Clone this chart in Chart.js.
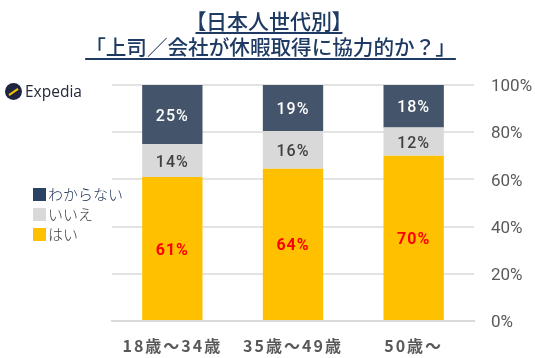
<!DOCTYPE html>
<html>
<head>
<meta charset="utf-8">
<script src="https://cdn.jsdelivr.net/npm/chart.js@4"></script>
<style>
  html, body { margin: 0; padding: 0; background: #fff; }
  #wrap { position: relative; width: 535px; height: 358px; overflow: hidden; font-family: "Noto Sans CJK JP", sans-serif; }
  #myChart { position: absolute; left: 0; top: 0; }
  #title { position: absolute; left: 0; top: 7px; width: 535px; text-align: center; color: #1f3b63; font-size: 21px; line-height: 26px; font-weight: 500; }
  #title span { text-decoration: underline; text-underline-offset: 3px; text-decoration-thickness: 2px; }
  #title .first { font-feature-settings: "palt"; margin-left: 3px; }
  #title .second { font-size: 20.6px; margin-left: 6px; }
  #logo { position: absolute; left: 5px; top: 80px; display: flex; align-items: center; font-family: "Open Sans", sans-serif; font-size: 15.5px; color: #25283c; height: 22px; }
  #logo i { display: block; width: 17px; height: 17px; border-radius: 50%; background: #1f2540; margin-right: 3px; position: relative; }
  #logo i::after { content: ""; position: absolute; left: 3px; top: 8px; width: 11px; height: 2px; background: #f5c400; transform: rotate(-35deg); }
  #legend { position: absolute; left: 33px; top: 184px; font-size: 15px; line-height: 20px; font-weight: 300; }
  #legend div { display: flex; align-items: center; height: 20px; }
  #legend b { display: block; width: 13px; height: 13px; margin-right: 2px; }
</style>
</head>
<body>
<div id="wrap">
  <canvas id="myChart" width="535" height="358"></canvas>
  <div id="title"><span class="first">【日本人世代別】</span><br><span class="second">「上司／会社が休暇取得に協力的か？」</span></div>
  <div id="logo"><i></i>Expedia</div>
  <div id="legend"></div>
</div>
<script>
'use strict';

let categories = ['18歳～34歳', '35歳～49歳', '50歳～'];
let hai = [61, 64.5, 70];
let iie = [14, 16, 12];
let wakaranai = [25, 19.5, 18];
let haiLabels = ['61%', '64%', '70%'];
let iieLabels = ['14%', '16%', '12%'];
let wakaranaiLabels = ['25%', '19%', '18%'];
let tickLabels = ['0%', '20%', '40%', '60%', '80%', '100%'];

let legendItems = [
  { name: 'わからない', color: '#2a4365', text: '#1c3258' },
  { name: 'いいえ', color: '#d9d9d9', text: '#404040' },
  { name: 'はい', color: '#ffc000', text: '#404040' }
];

let legendBox = document.getElementById('legend');
for (let i = 0; i < legendItems.length; i++) {
  let row = document.createElement('div');
  row.style.color = legendItems[i].text;
  let box = document.createElement('b');
  box.style.background = legendItems[i].color;
  row.appendChild(box);
  row.appendChild(document.createTextNode(legendItems[i].name));
  legendBox.appendChild(row);
}

// draws the percent text in the middle of each bar segment
const barLabels = {
  id: 'barLabels',
  afterDatasetsDraw(chart) {
    let ctx = chart.ctx;
    ctx.save();
    ctx.textAlign = 'center';
    ctx.textBaseline = 'middle';
    ctx.letterSpacing = '1px';
    chart.data.datasets.forEach(function (dataset, d) {
      ctx.font = dataset.labelFont;
      chart.getDatasetMeta(d).data.forEach(function (bar, i) {
        ctx.fillStyle = dataset.labelColor;
        ctx.fillText(dataset.texts[i], bar.x, (bar.y + bar.base) / 2 + 2);
      });
    });
    ctx.restore();
  }
};

const myChart = new Chart(document.getElementById('myChart'), {
  type: 'bar',
  data: {
    labels: categories,
    datasets: [
      { label: 'はい', data: hai, backgroundColor: '#ffc000', texts: haiLabels, labelColor: '#ff0000', labelFont: '700 16px Roboto' },
      { label: 'いいえ', data: iie, backgroundColor: '#d9d9d9', texts: iieLabels, labelColor: '#404040', labelFont: '500 16px Roboto' },
      { label: 'わからない', data: wakaranai, backgroundColor: '#44546a', texts: wakaranaiLabels, labelColor: '#ffffff', labelFont: '500 16px Roboto' }
    ]
  },
  options: {
    responsive: false,
    animation: false,
    layout: { padding: { left: 112, top: 85, right: 0, bottom: 0 } },
    plugins: { legend: { display: false }, title: { display: false }, tooltip: { enabled: false } },
    datasets: { bar: { categoryPercentage: 1, barPercentage: 0.5 } },
    scales: {
      x: {
        stacked: true,
        grid: { display: false },
        border: { color: '#d9d9d9', width: 2 },
        ticks: { color: '#595959', font: { family: '"Noto Sans CJK JP"', size: 16, weight: '700' }, padding: 7, maxRotation: 0 },
        afterFit(axis) { axis.height = 37; },
        // the reference spaces out the category text, ticks have no option for that
        afterUpdate(axis) {
          let drawLabels = axis.constructor.prototype.drawLabels;
          axis.drawLabels = function (area) {
            axis.ctx.letterSpacing = '2px';
            drawLabels.call(axis, area);
            axis.ctx.letterSpacing = '0px';
          };
        }
      },
      y: {
        stacked: true,
        position: 'right',
        min: 0,
        max: 100,
        grid: { color: '#e3e3e3', lineWidth: 2, drawTicks: false },
        border: { display: false },
        ticks: {
          stepSize: 20,
          color: '#595959',
          font: { family: 'Roboto', size: 17 },
          padding: 17,
          labelOffset: 2,
          callback: function (value, index) { return tickLabels[index]; }
        },
        afterFit(axis) { axis.width = 61; }
      }
    }
  },
  plugins: [barLabels]
});
</script>
</body>
</html>
